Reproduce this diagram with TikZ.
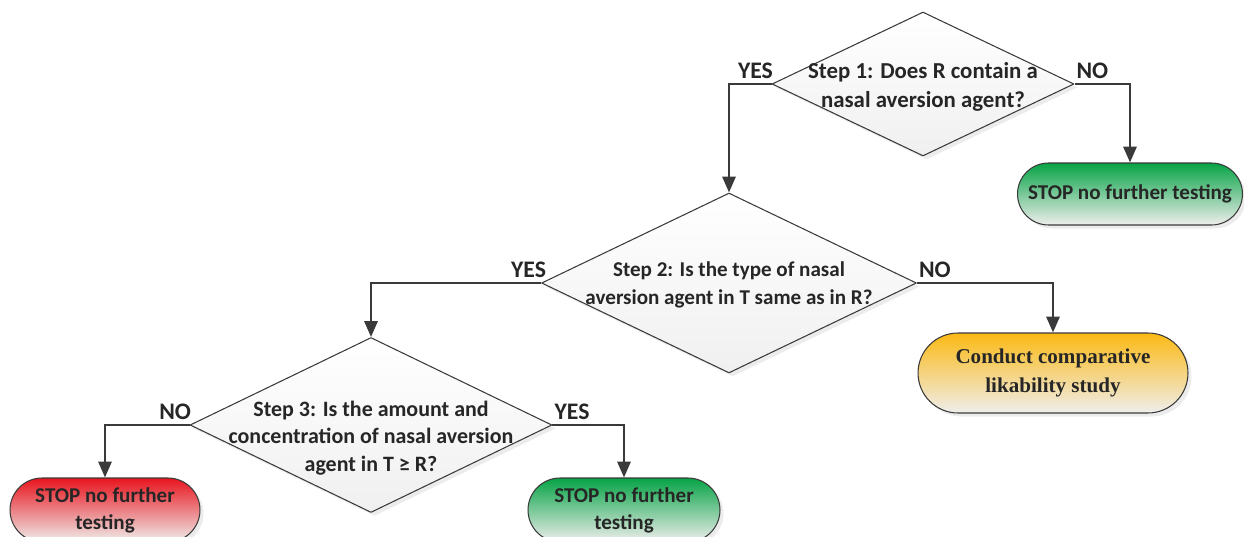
\documentclass[tikz,border=0pt]{standalone}
\usepackage{fontspec}
\setmainfont{Carlito}
\newfontfamily\timesbf{Liberation Serif}
\usepackage{tikz}
\usetikzlibrary{shapes.geometric,arrows.meta,shadows}

\definecolor{linegray}{HTML}{3A3A3A}
\definecolor{stopgreen}{HTML}{06A346}
\definecolor{stopred}{HTML}{E8141E}
\definecolor{studyorange}{HTML}{FBB914}
\definecolor{fadegray}{HTML}{EFEEEC}

\begin{document}
\begin{tikzpicture}
     [x=0.02cm,y=0.02cm,line cap=round,line join=round,
     font=\bfseries\fontsize{12}{15.5}\selectfont,
     %the decision diamonds
     decision/.style={diamond,draw=linegray,line width=0.6pt,inner sep=0pt,
        top color=white,bottom color=gray!12,
        drop shadow={opacity=0.15,shadow xshift=2pt,shadow yshift=-2pt}},
     steptext/.style={align=center,text=black!85,inner sep=0pt},
     %the end boxes with a colour fading into gray
     endbox/.style={rectangle,rounded corners=#1,draw=linegray,line width=0.6pt,
        align=center,text=black!85,bottom color=fadegray,
        drop shadow={opacity=0.15,shadow xshift=2pt,shadow yshift=-2pt}},
     flow/.style={-{Triangle[length=9pt,width=7.5pt]},draw=linegray,line width=1.3pt,
        line cap=butt,line join=miter},
     answer/.style={text=black!85,inner sep=1pt,font=\bfseries\fontsize{13.5}{16}\selectfont}]

%fixing the margins
\useasboundingbox (0,0) rectangle (1244,-537);

%the three steps
\node[decision,minimum width=6.04cm,minimum height=2.88cm] (d1) at (923,-84) {};
\node[steptext,font=\bfseries\fontsize{13}{16.5}\selectfont] (d1t) at (923,-87)
   {Step 1: Does R contain a\\nasal aversion agent?};

\node[decision,minimum width=7.5cm,minimum height=3.6cm] (d2) at (729,-283) {};
\node[steptext] (d2t) at (729,-285) {Step 2: Is the type of nasal\\aversion agent in T same as in R?};

\node[decision,minimum width=7.24cm,minimum height=3.5cm] (d3) at (371,-425) {};
\node[steptext,font=\bfseries\fontsize{12.5}{15.5}\selectfont] (d3t) at (371,-438)
   {Step 3: Is the amount and\\concentration of nasal aversion\\agent in T ≥ R?};

%the outcomes
\node[endbox=0.62cm,top color=stopgreen,minimum width=4.5cm,minimum height=1.24cm]
   (stop1) at (1130,-194) {STOP no further testing};
\node[endbox=0.8cm,top color=studyorange,minimum width=5.4cm,minimum height=1.6cm,
   font=\timesbf\bfseries\fontsize{12}{16}\selectfont]
   (study) at (1053,-373) {Conduct comparative\\likability study};
\node[endbox=0.64cm,top color=stopred,minimum width=3.8cm,minimum height=1.28cm]
   (stopr) at (105,-510) {STOP no further\\testing};
\node[endbox=0.64cm,top color=stopgreen,minimum width=3.84cm,minimum height=1.28cm]
   (stopg) at (624,-510) {STOP no further\\testing};

%connectors and answers
\draw[flow] (d1.west) -| (d2.north);
\draw[flow] (d1.east) -| (stop1.north);
\draw[flow] (d2.west) -| (d3.north);
\draw[flow] (d2.east) -| (study.north);
\draw[flow] (d3.west) -| (stopr.north);
\draw[flow] (d3.east) -| (stopg.north);

\node[answer,anchor=south east] (y1) at ([xshift=2pt,yshift=2pt]d1.west) {YES};
\node[answer,anchor=south west] (n1) at ([yshift=2pt]d1.east) {NO};
\node[answer,anchor=south east] (y2) at ([xshift=4pt,yshift=2pt]d2.west) {YES};
\node[answer,anchor=south west] (n2) at ([yshift=2pt]d2.east) {NO};
\node[answer,anchor=south east] (n3) at ([xshift=2pt,yshift=2pt]d3.west) {NO};
\node[answer,anchor=south west] (y3) at ([yshift=2pt]d3.east) {YES};
\end{tikzpicture}
\end{document}
